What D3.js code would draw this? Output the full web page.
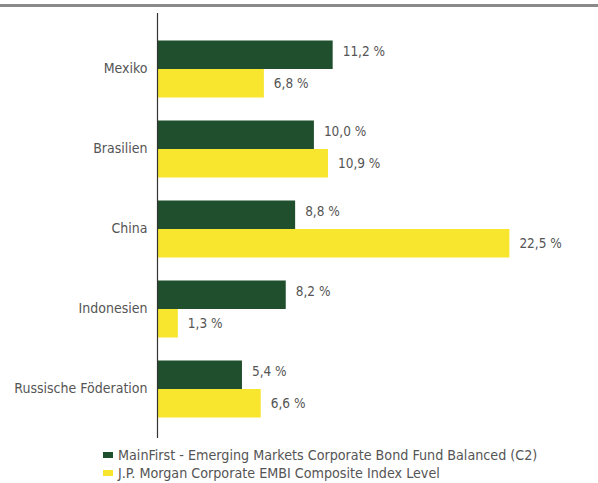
<!DOCTYPE html>
<html>
<head>
<meta charset="utf-8">
<script src="https://cdn.jsdelivr.net/npm/d3@7"></script>
<style>
  html, body { margin: 0; padding: 0; background: #fff; }
  svg { display: block; }
  text { font-family: "DejaVu Sans Condensed", "Liberation Sans Narrow", sans-serif; font-stretch: condensed; }
</style>
</head>
<body>
<svg id="chart" width="598" height="483"></svg>
<script>
// Countries shown on the vertical axis
const categories = ["Mexiko", "Brasilien", "China", "Indonesien", "Russische Föderation"];
// Country weights in percent
const fundValues = [11.2, 10.0, 8.8, 8.2, 5.4];
const indexValues = [6.8, 10.9, 22.5, 1.3, 6.6];
// Series names for the legend
const seriesNames = [
  "MainFirst - Emerging Markets Corporate Bond Fund Balanced (C2)",
  "J.P. Morgan Corporate EMBI Composite Index Level"
];
const seriesKeys = ["fund", "index"];

const colors = { fund: "#1f4f2c", index: "#f7e62d" };
const fmt = v => d3.format(".1f")(v).replace(".", ",") + " %";

const svg = d3.select("#chart");

// Header rule
svg.append("rect").attr("x", 0).attr("y", 4).attr("width", 598).attr("height", 3).attr("fill", "#8a8a8a");

const x = d3.scaleLinear().domain([0, 25]).range([157.5, 548.5]);
const y = d3.scaleBand().domain(categories).range([29, 429])
  .paddingInner(0.2875).paddingOuter(0.14375);
const ySub = d3.scaleBand().domain(seriesKeys).range([0, y.bandwidth()]);

const rows = categories.map((c, i) => ({ cat: c, fund: fundValues[i], index: indexValues[i] }));

const groups = svg.append("g").selectAll("g").data(rows).join("g")
  .attr("transform", d => `translate(0,${y(d.cat)})`);

groups.selectAll("rect").data(d => seriesKeys.map(k => ({ key: k, value: d[k] }))).join("rect")
  .attr("x", x(0))
  .attr("y", d => ySub(d.key))
  .attr("width", d => x(d.value) - x(0))
  .attr("height", ySub.bandwidth())
  .attr("fill", d => colors[d.key]);

groups.selectAll("text.val").data(d => seriesKeys.map(k => ({ key: k, value: d[k] }))).join("text")
  .attr("class", "val")
  .attr("x", d => x(d.value) + 10)
  .attr("y", d => ySub(d.key) + ySub.bandwidth() / 2 + (d.key === "fund" ? -3 : 0))
  .attr("dy", "0.35em")
  .attr("font-size", 13.5)
  .attr("fill", "#555")
  .text(d => fmt(d.value));

// Category axis
const axis = svg.append("g").attr("transform", `translate(${x(0)},0)`)
  .call(d3.axisLeft(y).tickSize(0).tickPadding(10));
axis.select(".domain").remove();
axis.selectAll("text").attr("font-size", 14).attr("fill", "#555")
  .style("font-family", '"DejaVu Sans Condensed", "Liberation Sans Narrow", sans-serif');
svg.append("line").attr("x1", x(0)).attr("x2", x(0)).attr("y1", 13).attr("y2", 438)
  .attr("stroke", "#333").attr("stroke-width", 1.2);

// Legend
const legend = svg.append("g").attr("transform", "translate(103,455)");
const li = legend.selectAll("g").data(seriesKeys).join("g")
  .attr("transform", (d, i) => `translate(0,${i * 18})`);
li.append("rect").attr("x", 0).attr("y", -3).attr("width", 10).attr("height", 6)
  .attr("fill", d => colors[d]);
li.append("text").attr("x", 15).attr("y", 0).attr("dy", "0.35em")
  .attr("font-size", 14.2).attr("fill", "#555")
  .text((d, i) => seriesNames[i]);
</script>
</body>
</html>
